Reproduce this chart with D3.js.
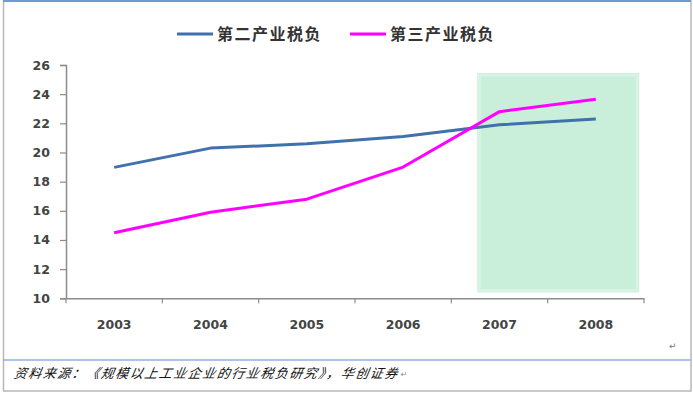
<!DOCTYPE html>
<html><head><meta charset="utf-8">
<script src="https://cdn.jsdelivr.net/npm/d3@7"></script>
<style>
html,body{margin:0;padding:0;background:#fff;}
svg{display:block;}
</style></head>
<body>
<svg id="chart" width="693" height="393"></svg>
<script>
const years = ["2003","2004","2005","2006","2007","2008"];
const secondary = [18.98, 20.3, 20.6, 21.1, 21.9, 22.3];
const tertiary = [14.5, 15.9, 16.8, 19.0, 22.8, 23.65];
const seriesNames = ["第二产业税负", "第三产业税负"];
const seriesColors = ["#3f72ad", "#ff00ff"];
const yTicks = [10, 12, 14, 16, 18, 20, 22, 24, 26];
const highlightYears = ["2007", "2008"];
const sourceText = "资料来源：《规模以上工业企业的行业税负研究》，华创证券";

const svg = d3.select("#chart");
const plotLeft = 66, plotRight = 644, plotTop = 65, plotBottom = 298.3;

const x = d3.scaleBand().domain(years).range([plotLeft, plotRight]);
const y = d3.scaleLinear().domain([10, 26]).range([plotBottom, plotTop]);

// frame
svg.append("rect").attr("x", 3.5).attr("y", 1).attr("width", 687.5).attr("height", 390)
  .attr("fill", "none").attr("stroke", "#b8b8b8").attr("stroke-width", 1.5);
svg.append("line").attr("x1", 3).attr("x2", 691).attr("y1", 1).attr("y2", 1)
  .attr("stroke", "#6f9ad8").attr("stroke-width", 2);
svg.append("line").attr("x1", 3).attr("x2", 691).attr("y1", 360).attr("y2", 360)
  .attr("stroke", "#8fb0e0").attr("stroke-width", 1.5);

// highlight box
const hx0 = x(highlightYears[0]) + x.bandwidth() * 0.27;
const hx1 = x(highlightYears[1]) + x.bandwidth() * 0.95;
const hy0 = y(25.45), hy1 = y(10.4);
svg.append("rect").attr("x", hx0).attr("y", hy0).attr("width", hx1 - hx0).attr("height", hy1 - hy0)
  .attr("fill", "#c9eed9");
svg.append("rect").attr("x", hx0 + 2).attr("y", hy0 + 2).attr("width", hx1 - hx0 - 4).attr("height", hy1 - hy0 - 4)
  .attr("fill", "none").attr("stroke", "#d6f3e3").attr("stroke-width", 3);

// axes
const yAxis = d3.axisLeft(y).tickValues(yTicks).tickSize(6).tickPadding(10).tickFormat(d3.format("d"));
const gy = svg.append("g").attr("transform", `translate(${plotLeft},0)`).call(yAxis);
gy.select(".domain").attr("stroke", "#8c8c8c").attr("stroke-width", 1.5);
gy.selectAll(".tick line").attr("stroke", "#8c8c8c").attr("stroke-width", 1.2);
gy.selectAll(".tick text").attr("font-family", "DejaVu Sans").attr("font-weight", "bold")
  .attr("font-size", "12.5px").attr("fill", "#444");

const xAxis = d3.axisBottom(x).tickSize(0).tickPadding(22);
const gx = svg.append("g").attr("transform", `translate(0,${plotBottom})`).call(xAxis);
gx.select(".domain").attr("stroke", "#8c8c8c").attr("stroke-width", 1.5);
gx.selectAll(".tick text").attr("font-family", "DejaVu Sans").attr("font-weight", "bold")
  .attr("font-size", "12.5px").attr("fill", "#444");
// band boundary ticks
const boundaries = years.map(d => x(d)).concat([x(years[years.length - 1]) + x.bandwidth()]);
gx.selectAll(".bt").data(boundaries).enter().append("line")
  .attr("x1", d => d).attr("x2", d => d).attr("y1", 0).attr("y2", 5)
  .attr("stroke", "#8c8c8c").attr("stroke-width", 1.2);

// lines
const line = d3.line().x((d, i) => x(years[i]) + x.bandwidth() / 2).y(d => y(d));
[secondary, tertiary].forEach((s, i) => {
  svg.append("path").datum(s).attr("d", line).attr("fill", "none")
    .attr("stroke", seriesColors[i]).attr("stroke-width", 3).attr("stroke-linejoin", "round");
});

// legend
const legendX = [177, 350];
seriesNames.forEach((n, i) => {
  svg.append("line").attr("x1", legendX[i]).attr("x2", legendX[i] + 36).attr("y1", 34).attr("y2", 34)
    .attr("stroke", seriesColors[i]).attr("stroke-width", 3);
  svg.append("text").attr("x", legendX[i] + 40).attr("y", 40).text(n)
    .attr("font-family", "Noto Sans CJK SC").attr("font-weight", "bold").attr("font-size", "16px")
    .attr("letter-spacing", "1.5px").attr("fill", "#333");
});

// source
const src = svg.append("text").attr("x", 14).attr("y", 378).text(sourceText)
  .attr("font-family", "Noto Sans CJK SC").attr("font-style", "italic").attr("font-size", "13px")
  .attr("letter-spacing", "1.5px").attr("fill", "#111")
  .attr("transform", "skewX(-10) translate(66,0)");
const srcEnd = 14 + src.node().getComputedTextLength() + 2;
svg.append("text").attr("x", srcEnd).attr("y", 377).text("↵")
  .attr("font-family", "DejaVu Sans").attr("font-size", "8px").attr("fill", "#888");
svg.append("text").attr("x", 669).attr("y", 349).text("↵")
  .attr("font-family", "DejaVu Sans").attr("font-size", "9px").attr("fill", "#777");
</script>
</body></html>
